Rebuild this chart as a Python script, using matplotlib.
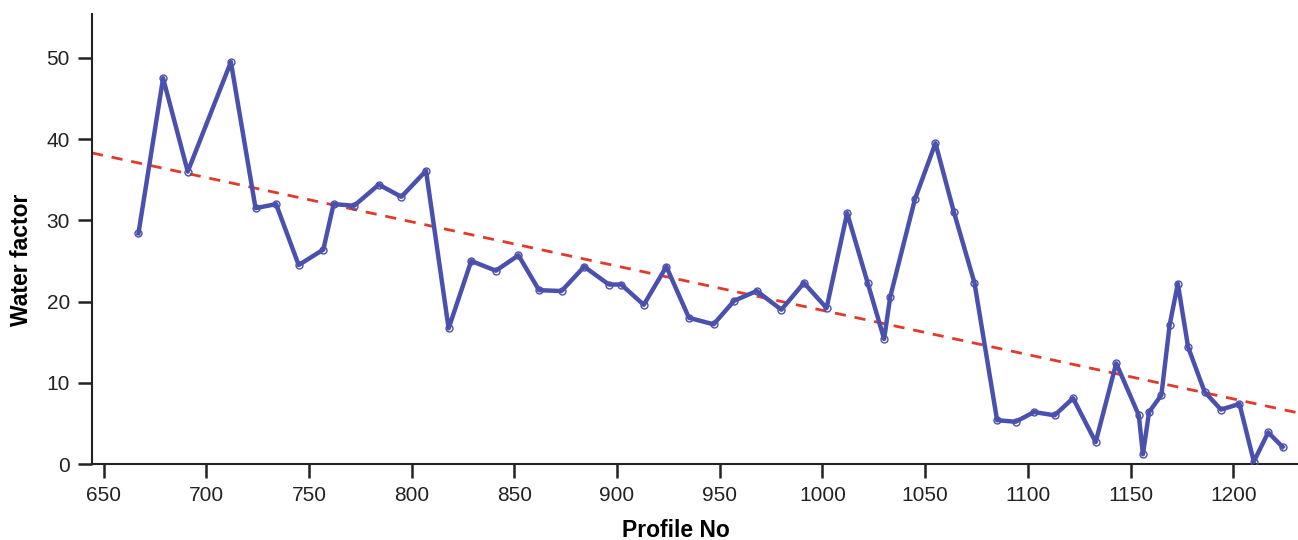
import numpy as np
import matplotlib.pyplot as plt

plt.rcParams['font.family'] = ['Liberation Sans', 'DejaVu Sans']

# profile number / water factor
profile = [667, 679, 691, 712, 724, 734, 745, 757, 762, 772, 784, 795, 807,
           818, 829, 841, 852, 862, 873, 884, 896, 902, 913, 924, 935, 947,
           957, 968, 980, 991, 1002, 1012, 1022, 1030, 1033, 1045, 1055,
           1064, 1074, 1085, 1094, 1103, 1113, 1122, 1133, 1143, 1154, 1156,
           1159, 1165, 1169, 1173, 1178, 1186, 1194, 1203, 1210, 1217, 1224]
water = [28.4, 47.5, 36.0, 49.5, 31.5, 32.0, 24.5, 26.4, 32.0, 31.8, 34.4,
         32.9, 36.1, 16.7, 25.0, 23.8, 25.7, 21.4, 21.3, 24.3, 22.1, 22.1,
         19.6, 24.3, 18.0, 17.2, 20.1, 21.3, 19.0, 22.3, 19.2, 30.9, 22.3,
         15.4, 20.6, 32.6, 39.5, 31.0, 22.3, 5.4, 5.2, 6.4, 6.0, 8.1, 2.7,
         12.4, 6.0, 1.2, 6.4, 8.5, 17.1, 22.2, 14.4, 8.9, 6.7, 7.4, 0.3,
         3.9, 2.1]

# trend line end points
trend_x = [644.4, 1231.5]
trend_y = [38.3, 6.3]

fig = plt.figure(figsize=(12.98, 5.40), dpi=100)
ax = fig.add_axes([0.0709, 0.1407, 0.9291, 0.8333])

ax.plot(trend_x, trend_y, color='#e2392b', lw=2, ls=(0, (4, 3.2)), zorder=2)
ax.plot(profile, water, color='#4a50ad', lw=3.2, marker='o', ms=5,
        mfc='none', mec='#4a50ad', mew=1, zorder=3)

ax.set_xlim(644.4, 1231.5)
ax.set_ylim(0, 55.4)
ax.set_xticks(np.arange(650, 1201, 50))
ax.set_yticks(np.arange(0, 51, 10))

for s in ['top', 'right']:
    ax.spines[s].set_visible(False)
for s in ['left', 'bottom']:
    ax.spines[s].set_linewidth(1.5)
    ax.spines[s].set_color('#222222')

ax.tick_params(axis='both', direction='out', length=10, width=1.8,
               labelsize=15, colors='#222222', pad=6)

ax.set_xlabel('Profile No', fontsize=16.5, fontweight='bold')
ax.set_ylabel('Water factor', fontsize=16.5, fontweight='bold')
ax.xaxis.set_label_coords(0.484, -0.122)
ax.yaxis.set_label_coords(-0.049, 0.453)

fig.savefig('out.png', dpi=100)
